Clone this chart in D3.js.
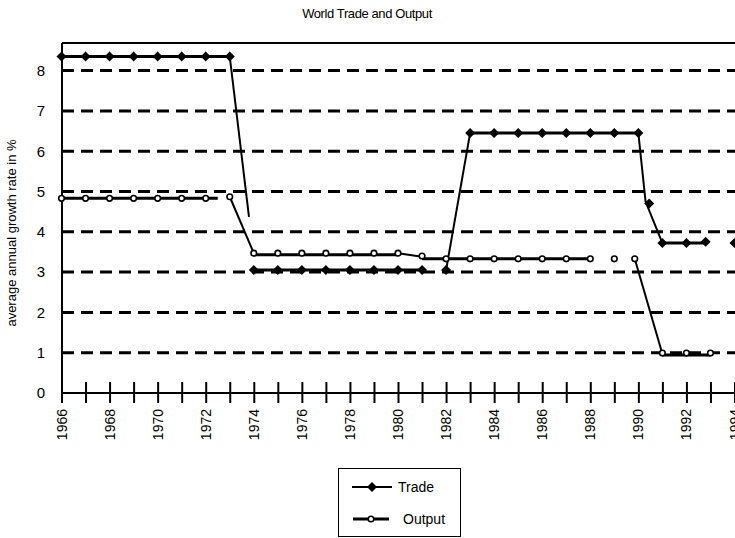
<!DOCTYPE html>
<html>
<head>
<meta charset="utf-8">
<script src="https://cdn.jsdelivr.net/npm/d3@7"></script>
<style>
  html, body { margin: 0; padding: 0; background: #fff; }
  svg { display: block; font-family: "Liberation Sans", Arial, sans-serif; }
</style>
</head>
<body>
<svg id="chart" width="735" height="538"></svg>
<script>
// Average annual growth rates (%) of world trade and world output, 1966-1994
const title = "World Trade and Output";
const yTitle = "average annual growth rate in %";
const yTicks = [0, 1, 2, 3, 4, 5, 6, 7, 8];
const xYears = d3.range(1966, 1995);
const xLabelYears = d3.range(1966, 1995, 2);

// Trade: marker positions [year, value]
const tradePoints = [
  [1966, 8.35], [1967, 8.35], [1968, 8.35], [1969, 8.35], [1970, 8.35], [1971, 8.35], [1972, 8.35], [1973, 8.35],
  [1974, 3.05], [1975, 3.05], [1976, 3.05], [1977, 3.05], [1978, 3.05], [1979, 3.05], [1980, 3.05], [1981, 3.05],
  [1982, 3.05],
  [1983, 6.45], [1984, 6.45], [1985, 6.45], [1986, 6.45], [1987, 6.45], [1988, 6.45], [1989, 6.45], [1990, 6.45],
  [1990.45, 4.7],
  [1991, 3.72], [1992, 3.72], [1992.8, 3.75], [1994, 3.72]
];
// Trade: plateau periods (heavy lines) and transitions (light lines)
const tradeRuns = [
  [[1966, 8.35], [1973, 8.35]],
  [[1974, 3.05], [1981, 3.05]],
  [[1983, 6.45], [1990, 6.45]],
  [[1991, 3.72], [1992.8, 3.72]]
];
const tradeLinks = [
  [[1973, 8.35], [1973.8, 4.37]],
  [[1982, 3.05], [1983, 6.45]],
  [[1990, 6.45], [1990.3, 4.75], [1991, 3.72]]
];

// Output: marker positions [year, value]
const outputPoints = [
  [1966, 4.83], [1967, 4.83], [1968, 4.83], [1969, 4.83], [1970, 4.83], [1971, 4.83], [1972, 4.83], [1973, 4.87],
  [1974, 3.47], [1975, 3.47], [1976, 3.47], [1977, 3.47], [1978, 3.47], [1979, 3.47], [1980, 3.47], [1981, 3.4],
  [1982, 3.33], [1983, 3.33], [1984, 3.33], [1985, 3.33], [1986, 3.33], [1987, 3.33], [1988, 3.33],
  [1989, 3.33], [1989.85, 3.33],
  [1991, 0.99], [1992, 0.99], [1993, 0.99]
];
const outputRuns = [
  [[1966, 4.83], [1972.5, 4.83]],
  [[1974, 3.43], [1980, 3.43]],
  [[1981, 3.33], [1988, 3.33]],
  [[1991, 0.94], [1993, 0.94]]
];
const outputLinks = [
  [[1973, 4.87], [1974, 3.47]],
  [[1980, 3.47], [1981, 3.38]],
  [[1989.85, 3.33], [1991, 0.97]]
];

const legendItems = ["Trade", "Output"];

const svg = d3.select("#chart");
const plot = { left: 62, right: 735, top: 43, bottom: 393 };

const x = d3.scaleLinear().domain([1966, 1994]).range([61.5, 734.5]);
const y = d3.scaleLinear().domain([0, 8]).range([plot.bottom, 70.6]);
const line = d3.line().x(d => x(d[0])).y(d => y(d[1]));

// title
svg.append("text")
  .attr("x", 367).attr("y", 18)
  .attr("text-anchor", "middle")
  .attr("font-size", 13)
  .attr("letter-spacing", -0.4)
  .text(title);

// top frame
svg.append("line")
  .attr("x1", plot.left).attr("x2", plot.right)
  .attr("y1", plot.top).attr("y2", plot.top)
  .attr("stroke", "#000").attr("stroke-width", 2);

// dashed gridlines
svg.append("g")
  .selectAll("line")
  .data(yTicks.filter(v => v > 0))
  .join("line")
  .attr("x1", plot.left).attr("x2", plot.right)
  .attr("y1", d => y(d)).attr("y2", d => y(d))
  .attr("stroke", "#000")
  .attr("stroke-width", 3)
  .attr("stroke-dasharray", "12,7");

// y axis
const yAxis = svg.append("g")
  .attr("transform", `translate(${plot.left},0)`)
  .call(d3.axisLeft(y).tickValues(yTicks).tickSize(0).tickPadding(17).tickFormat(d3.format("d")));
yAxis.select(".domain").remove();
yAxis.selectAll("text").attr("font-size", 15).attr("fill", "#000").attr("font-family", "Liberation Sans, Arial, sans-serif");
svg.append("line")
  .attr("x1", plot.left).attr("x2", plot.left)
  .attr("y1", plot.top).attr("y2", plot.bottom + 8)
  .attr("stroke", "#000").attr("stroke-width", 2);

svg.append("text")
  .attr("transform", `translate(16,${(plot.top + plot.bottom) / 2 + 15}) rotate(-90)`)
  .attr("text-anchor", "middle")
  .attr("font-size", 13)
  .text(yTitle);

// x axis with ticks crossing the baseline
const xAxis = svg.append("g")
  .attr("transform", `translate(0,${plot.bottom})`)
  .call(d3.axisBottom(x).tickValues(xYears).tickSize(10).tickFormat(""));
xAxis.select(".domain")
  .attr("d", `M${plot.left},0H${plot.right}`)
  .attr("stroke-width", 2);
xAxis.selectAll(".tick line").attr("y1", -11).attr("y2", 10).attr("stroke-width", 2);

svg.append("g")
  .selectAll("text")
  .data(xLabelYears)
  .join("text")
  .attr("transform", d => `translate(${x(d) + 5},${plot.bottom + 16}) rotate(-90)`)
  .attr("text-anchor", "end")
  .attr("font-size", 14)
  .text(d => d);

// series lines
function drawSeries(runs, links) {
  svg.append("g").selectAll("path").data(runs).join("path")
    .attr("d", line).attr("fill", "none").attr("stroke", "#000").attr("stroke-width", 3);
  svg.append("g").selectAll("path").data(links).join("path")
    .attr("d", line).attr("fill", "none").attr("stroke", "#000").attr("stroke-width", 2);
}
drawSeries(tradeRuns, tradeLinks);
drawSeries(outputRuns, outputLinks);

// square diamond marker (a square turned by 45 degrees)
const diamond = d3.symbol().type(d3.symbolSquare).size(50);
svg.append("g").selectAll("path").data(tradePoints).join("path")
  .attr("transform", d => `translate(${x(d[0])},${y(d[1])}) rotate(45)`)
  .attr("d", diamond)
  .attr("fill", "#000");

svg.append("g").selectAll("circle").data(outputPoints).join("circle")
  .attr("cx", d => x(d[0])).attr("cy", d => y(d[1]))
  .attr("r", 2.8)
  .attr("fill", "#fff").attr("stroke", "#000").attr("stroke-width", 1.6);

// legend
const legend = svg.append("g");
legend.append("rect")
  .attr("x", 338.5).attr("y", 468.5).attr("width", 122).attr("height", 68)
  .attr("fill", "#fff").attr("stroke", "#000").attr("stroke-width", 1);
const legendRows = [
  { name: legendItems[0], y: 487, x1: 352, x2: 392, tx: 398 },
  { name: legendItems[1], y: 519, x1: 353, x2: 389, tx: 403 }
];
legendRows.forEach((r, i) => {
  legend.append("line")
    .attr("x1", r.x1).attr("x2", r.x2).attr("y1", r.y).attr("y2", r.y)
    .attr("stroke", "#000").attr("stroke-width", i === 0 ? 2 : 3);
  if (i === 0) {
    legend.append("path")
      .attr("transform", `translate(${(r.x1 + r.x2) / 2},${r.y}) rotate(45)`)
      .attr("d", diamond).attr("fill", "#000");
  } else {
    legend.append("circle")
      .attr("cx", (r.x1 + r.x2) / 2).attr("cy", r.y).attr("r", 2.8)
      .attr("fill", "#fff").attr("stroke", "#000").attr("stroke-width", 1.6);
  }
  legend.append("text")
    .attr("x", r.tx).attr("y", r.y + 5)
    .attr("font-size", 14)
    .text(r.name);
});
</script>
</body>
</html>
